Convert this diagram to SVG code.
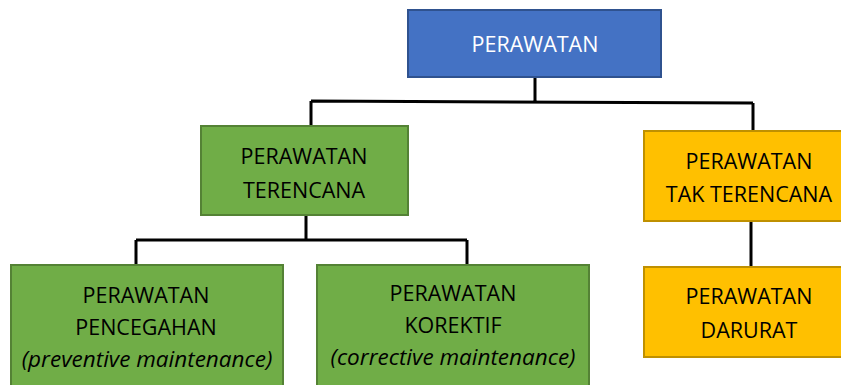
<svg xmlns="http://www.w3.org/2000/svg" width="841" height="385" viewBox="0 0 841 385">
  <style>
    .box { stroke-width: 2; }
    .blue { fill: #4472C4; stroke: #2F528F; }
    .green { fill: #70AD47; stroke: #548235; }
    .gold { fill: #FFC000; stroke: #BF9000; }
    text { font-family: "Open Sans", "Noto Sans", sans-serif; font-size: 21.5px; text-anchor: middle; fill: #000; }
    .white { fill: #FFFFFF; }
    .it { font-style: italic; font-size: 22.5px; }
    .wire { fill: none; stroke: #000; stroke-width: 3; }
  </style>

  <!-- connectors -->
  <g id="connectors">
    <path class="wire" d="M535,77 V102 M311,101 L753,103 M311,101 V126 M753,103 V131"/>
    <path class="wire" d="M306,215 V240 M136,240 H467 M136,240 V265 M467,240 V265"/>
    <path class="wire" d="M751,221 V266"/>
  </g>

  <g id="perawatan">
    <rect class="box blue" x="408" y="10" width="253" height="67"/>
    <text class="white" x="535" y="52">PERAWATAN</text>
  </g>

  <g id="terencana">
    <rect class="box green" x="201" y="126" width="207" height="89"/>
    <text x="304" y="164">PERAWATAN</text>
    <text x="304" y="198">TERENCANA</text>
  </g>

  <g id="tak-terencana">
    <rect class="box gold" x="644" y="131" width="200" height="90"/>
    <text x="749" y="169">PERAWATAN</text>
    <text x="749" y="202">TAK TERENCANA</text>
  </g>

  <g id="pencegahan">
    <rect class="box green" x="11" y="265" width="272" height="125"/>
    <text x="146" y="303">PERAWATAN</text>
    <text x="146" y="335">PENCEGAHAN</text>
    <text class="it" x="147" y="367">(preventive maintenance)</text>
  </g>

  <g id="korektif">
    <rect class="box green" x="317" y="265" width="272" height="125"/>
    <text x="453" y="301">PERAWATAN</text>
    <text x="453" y="333">KOREKTIF</text>
    <text class="it" x="453" y="365">(corrective maintenance)</text>
  </g>

  <g id="darurat">
    <rect class="box gold" x="644" y="267" width="200" height="90"/>
    <text x="749" y="304">PERAWATAN</text>
    <text x="749" y="338">DARURAT</text>
  </g>
</svg>
